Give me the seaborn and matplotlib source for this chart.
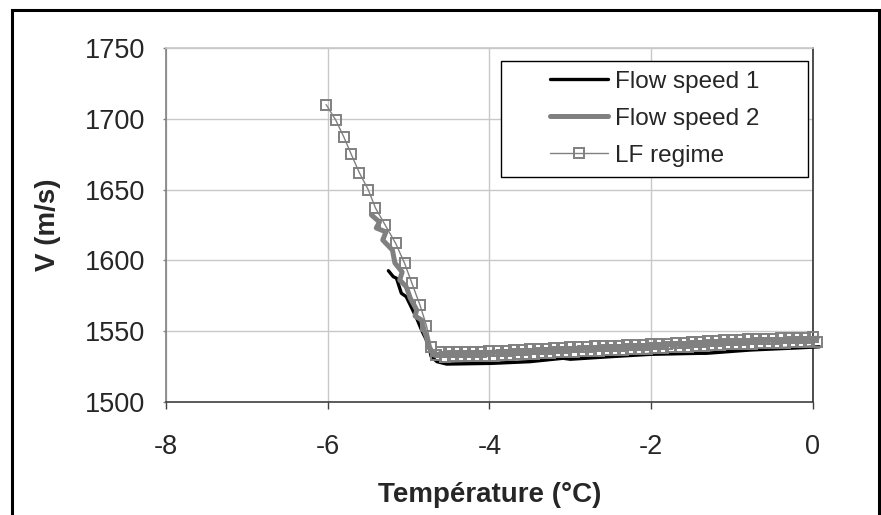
import numpy as np
import pandas as pd
import matplotlib
matplotlib.use("Agg")
import matplotlib.pyplot as plt
from matplotlib.patches import Rectangle
from matplotlib.legend_handler import HandlerLine2D
import seaborn as sns

# Flow speed 1 (black)
fs1_t = [-5.25, -5.19, -5.15, -5.09, -5.03, -4.96, -4.90, -4.84, -4.78, -4.74, -4.72,
         -4.65, -4.53, -4.30, -3.97, -3.50, -3.09, -3.00, -2.51, -2.00, -1.40,
         -1.32, -0.78, -0.16, 0.08]
fs1_v = [1592.7, 1588.5, 1587.4, 1576.8, 1574.4, 1566.2, 1559.1, 1550.8, 1543.8, 1536.7, 1532.0,
         1528.5, 1526.8, 1527.0, 1527.3, 1528.5, 1530.9, 1530.2, 1532.0, 1533.7, 1534.4,
         1534.4, 1536.7, 1538.3, 1539.0]

# Flow speed 2 (thick grey)
fs2_t = [-5.46, -5.36, -5.40, -5.28, -5.32, -5.20, -5.17, -5.08, -5.11, -5.03, -4.98,
         -4.90, -4.92, -4.84, -4.81, -4.78, -4.76, -4.72, -4.69, -4.61,
         -4.00, -3.00, -2.00, -1.00, 0.05]
fs2_v = [1632.1, 1627.1, 1622.9, 1620.1, 1614.4, 1607.3, 1598.2, 1591.8, 1586.2, 1581.4, 1573.4,
         1565.0, 1560.7, 1557.9, 1550.8, 1546.1, 1540.3, 1535.5, 1533.2, 1534.0,
         1535.0, 1537.5, 1540.0, 1542.5, 1545.0]

# LF regime (squares)
lf_t = [-6.02, -5.90, -5.80, -5.71, -5.61, -5.50, -5.41, -5.29, -5.16, -5.05, -4.96,
        -4.86, -4.78, -4.72, -4.66,
        -4.60, -4.55, -4.50, -4.45, -4.40, -4.35, -4.30, -4.25, -4.20, -4.15,
        -4.10, -4.05, -4.00, -3.95, -3.90, -3.85, -3.80, -3.75, -3.70, -3.65,
        -3.60, -3.55, -3.50, -3.45, -3.40, -3.35, -3.30, -3.25, -3.20, -3.15,
        -3.10, -3.05, -3.00, -2.95, -2.90, -2.85, -2.80, -2.75, -2.70, -2.65,
        -2.60, -2.55, -2.50, -2.45, -2.40, -2.35, -2.30, -2.25, -2.20, -2.15,
        -2.10, -2.05, -2.00, -1.95, -1.90, -1.85, -1.80, -1.75, -1.70, -1.65,
        -1.60, -1.55, -1.50, -1.45, -1.40, -1.35, -1.30, -1.25, -1.20, -1.15,
        -1.10, -1.05, -1.00, -0.95, -0.90, -0.85, -0.80, -0.75, -0.70, -0.65,
        -0.60, -0.55, -0.50, -0.45, -0.40, -0.35, -0.30, -0.25, -0.20, -0.15,
        -0.10, -0.05, 0.00, 0.05]
lf_v = [1710.0, 1699.0, 1687.0, 1675.0, 1662.0, 1650.0, 1637.0, 1625.0, 1612.0, 1598.0, 1584.0,
        1568.5, 1554.0, 1539.0, 1533.0,
        1535.0, 1532.1, 1535.1, 1532.2, 1535.2, 1532.3, 1535.4, 1532.4, 1535.5, 1532.5,
        1535.6, 1532.6, 1535.7, 1532.8, 1536.0, 1533.1, 1536.3, 1533.4, 1536.5, 1533.7,
        1536.8, 1534.0, 1537.1, 1534.2, 1537.4, 1534.5, 1537.7, 1534.8, 1537.9, 1535.1,
        1538.2, 1535.4, 1538.5, 1535.6, 1538.7, 1535.8, 1538.9, 1536.1, 1539.2, 1536.3,
        1539.4, 1536.5, 1539.6, 1536.7, 1539.8, 1536.9, 1540.0, 1537.2, 1540.3, 1537.4,
        1540.5, 1537.6, 1540.7, 1537.9, 1541.0, 1538.2, 1541.3, 1538.5, 1541.7, 1538.8,
        1542.0, 1539.1, 1542.3, 1539.5, 1542.6, 1539.8, 1542.9, 1540.1, 1543.3, 1540.4,
        1543.6, 1540.7, 1543.9, 1541.0, 1544.1, 1541.2, 1544.2, 1541.3, 1544.4, 1541.5,
        1544.6, 1541.7, 1544.8, 1541.8, 1544.9, 1542.0, 1545.1, 1542.2, 1545.3, 1542.3,
        1545.4, 1542.5, 1545.6, 1542.7]

x_ticks = [-8, -6, -4, -2, 0]
y_ticks = [1500, 1550, 1600, 1650, 1700, 1750]

sns.set_style("white")
plt.rcParams['font.family'] = ['Liberation Sans', 'DejaVu Sans']

fig = plt.figure(figsize=(8.81, 5.15), dpi=100)
ax = fig.add_axes([166 / 881, 1 - 402 / 515, (813 - 166) / 881, (402 - 48) / 515])

df1 = pd.DataFrame({"t": fs1_t, "v": fs1_v})
df2 = pd.DataFrame({"t": fs2_t, "v": fs2_v})
df3 = pd.DataFrame({"t": lf_t, "v": lf_v})

sns.lineplot(data=df1, x="t", y="v", sort=False, estimator=None, color="black",
             lw=2.4, label="Flow speed 1", ax=ax, clip_on=False, zorder=3)
sns.lineplot(data=df2, x="t", y="v", sort=False, estimator=None, color="#808080",
             lw=3.6, label="Flow speed 2", ax=ax, clip_on=False, zorder=4)
sns.lineplot(data=df3, x="t", y="v", sort=False, estimator=None, color="#808080",
             lw=1.0, marker="s", markersize=7.5, markerfacecolor="none",
             markeredgecolor="#808080", markeredgewidth=1.4,
             label="LF regime", ax=ax, clip_on=False, zorder=5)

ax.set_xlim(-8, 0)
ax.set_ylim(1500, 1750)
ax.set_xticks(x_ticks)
ax.set_yticks(y_ticks)
ax.set_xticklabels([str(t) for t in x_ticks])
ax.grid(True, color="#c8c8c8", lw=1.0)
ax.set_axisbelow(True)

for side, col in [("left", "#808080"), ("bottom", "#404040"), ("top", "#c8c8c8"), ("right", "#303030")]:
    ax.spines[side].set_visible(True)
    ax.spines[side].set_color(col)
    ax.spines[side].set_linewidth(1.2)

ax.tick_params(axis="x", direction="out", length=5, width=1, color="#404040",
               pad=18, labelsize=19.5)
ax.tick_params(axis="y", direction="out", length=2, width=1, color="#808080",
               pad=13, labelsize=19.5)
ax.xaxis.set_ticks_position("bottom")
ax.yaxis.set_ticks_position("left")

ax.set_xlabel("Température (°C)", fontsize=20, fontweight="bold", labelpad=16)
ax.set_ylabel("V (m/s)", fontsize=20, fontweight="bold", labelpad=17)

# legend lines start well inside the box, as in the original
pad_handler = HandlerLine2D(xpad=1.6)
handles, labels = ax.get_legend_handles_labels()
leg = ax.legend(handles, labels, loc="upper left", mode="expand",
                bbox_to_anchor=(501 / 881, 1 - 176 / 515, 307 / 881, 115 / 515),
                bbox_transform=fig.transFigure, fontsize=17.5, frameon=True,
                fancybox=False, shadow=False, borderpad=0.4, labelspacing=0.62,
                handlelength=4.0, handletextpad=0.3, borderaxespad=0,
                handler_map={h: pad_handler for h in handles})
leg.get_frame().set_edgecolor("black")
leg.get_frame().set_linewidth(1.0)
leg.get_frame().set_alpha(1)

fig.patches.append(Rectangle((12 / 881, -0.02), (879 - 12) / 881, 1 - 10 / 515 + 0.02,
                             transform=fig.transFigure, fill=False,
                             edgecolor="black", lw=2.2))

fig.savefig("out.png", dpi=100)
